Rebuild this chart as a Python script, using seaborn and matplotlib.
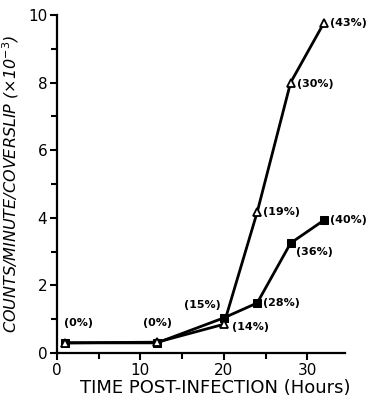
import matplotlib
matplotlib.use("Agg")
import matplotlib.pyplot as plt
import seaborn as sns
import pandas as pd
from matplotlib.ticker import MultipleLocator

# Data
tri_hours = [1, 12, 20, 24, 28, 32]
tri_counts = [0.3, 0.32, 0.85, 4.17, 8.0, 9.77]
tri_labels = ["(0%)", "(0%)", "(14%)", "(19%)", "(30%)", "(43%)"]

sq_hours = [1, 12, 20, 24, 28, 32]
sq_counts = [0.3, 0.3, 1.04, 1.48, 3.25, 3.93]
sq_labels = ["", "", "(15%)", "(28%)", "(36%)", "(40%)"]

xticks = [0, 10, 20, 30]
yticks = [0, 2, 4, 6, 8, 10]

tri_df = pd.DataFrame({"hours": tri_hours, "counts": tri_counts})
sq_df = pd.DataFrame({"hours": sq_hours, "counts": sq_counts})

sns.set_style("ticks")
plt.rcParams["font.family"] = ["DejaVu Sans"]
plt.rcParams["text.color"] = "black"

fig = plt.figure(figsize=(3.72, 4.0), dpi=100)
ax = fig.add_axes([0.153, 0.1175, 0.774, 0.845])

sns.lineplot(data=sq_df, x="hours", y="counts", ax=ax, color="black", lw=2,
             marker="s", markersize=6, markerfacecolor="black",
             markeredgecolor="black", zorder=3)
sns.lineplot(data=tri_df, x="hours", y="counts", ax=ax, color="black", lw=2,
             marker="^", markersize=6, markerfacecolor="white",
             markeredgecolor="black", markeredgewidth=1.3, zorder=4)

fs = 8
fw = "bold"
offsets_tri = [(-1, 14), (0, 14), (6, -2), (4.5, 0), (4.5, -1), (4.5, 0)]
has_tri = ["left", "center", "left", "left", "left", "left"]
for i, (x, y, lab) in enumerate(zip(tri_hours, tri_counts, tri_labels)):
    if not lab:
        continue
    dx, dy = offsets_tri[i]
    ax.annotate(lab, (x, y), xytext=(dx, dy), textcoords="offset points",
                ha=has_tri[i], va="center", fontsize=fs, fontweight=fw,
                color="black")
offsets_sq = [None, None, (-2, 9), (4, 0), (4, -6.5), (4.5, 0)]
has_sq = [None, None, "right", "left", "left", "left"]
for i, (x, y, lab) in enumerate(zip(sq_hours, sq_counts, sq_labels)):
    if not lab:
        continue
    dx, dy = offsets_sq[i]
    ax.annotate(lab, (x, y), xytext=(dx, dy), textcoords="offset points",
                ha=has_sq[i], va="center", fontsize=fs, fontweight=fw,
                color="black")

ax.set_xlim(0, 34.5)
ax.set_ylim(0, 10)
ax.set_xticks(xticks)
ax.set_yticks(yticks)
ax.xaxis.set_minor_locator(MultipleLocator(5))
ax.yaxis.set_minor_locator(MultipleLocator(1))
ax.tick_params(axis="both", which="major", direction="out", length=5, width=1.5,
               labelsize=11, pad=2, color="black", labelcolor="black")
ax.tick_params(axis="both", which="minor", direction="out", length=4, width=1.5,
               color="black")
for s in ["left", "bottom"]:
    ax.spines[s].set_linewidth(1.6)
    ax.spines[s].set_color("black")
sns.despine(ax=ax)

ax.set_xlabel("TIME POST-INFECTION (Hours)", fontsize=13, color="black")
ax.xaxis.set_label_coords(0.55, -0.078)
ax.set_ylabel("COUNTS/MINUTE/COVERSLIP (×10$^{-3}$)", fontsize=11.5,
              style="italic", labelpad=5, color="black")

fig.savefig("out.png", dpi=100)
